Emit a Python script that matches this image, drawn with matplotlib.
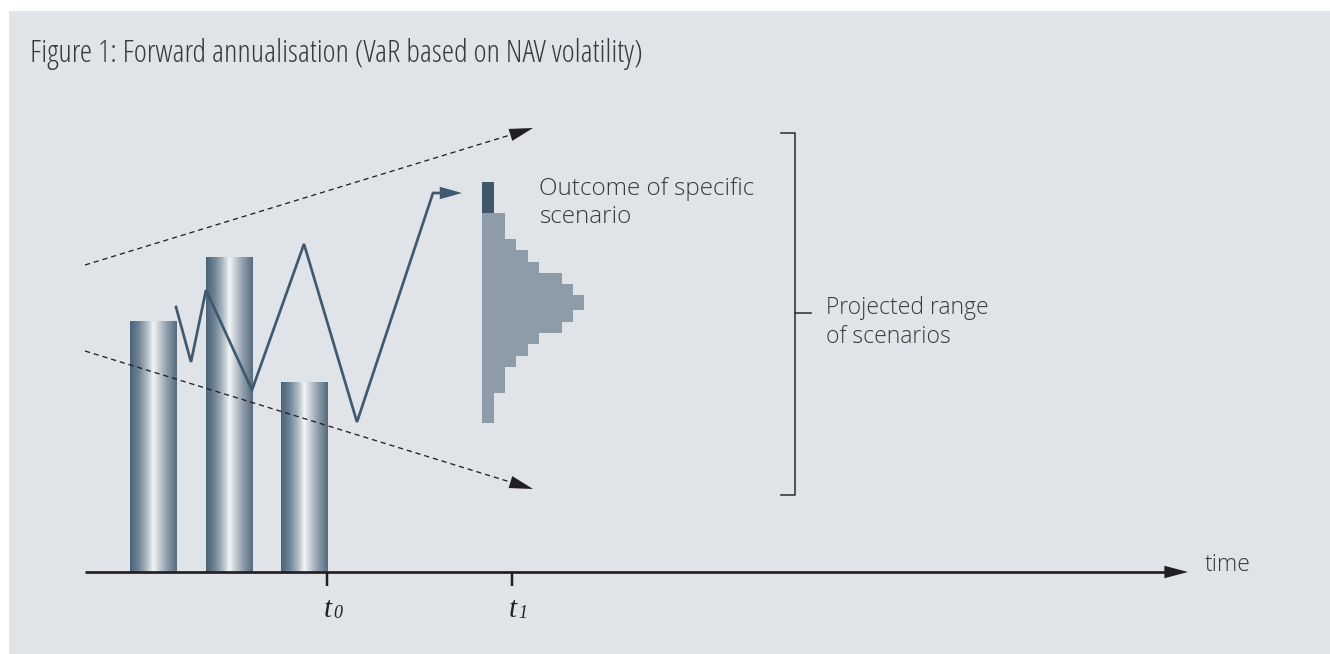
import matplotlib
matplotlib.use("Agg")
import matplotlib.pyplot as plt
import numpy as np
from matplotlib.patches import Rectangle
from matplotlib.colors import LinearSegmentedColormap

# ---------------- data (diagram units: x = horizontal position, y = level above time axis) -------------
title = "Figure 1: Forward annualisation (VaR based on NAV volatility)"

bar_left = [130, 206, 281]          # historical NAV bars
bar_width = 46.5
bar_heights = [251, 315, 190]

path_x = [176, 191, 206, 252, 304, 357, 433, 462]   # NAV path / specific scenario
path_y = [265, 210, 282, 182, 328, 150, 379, 379]

upper_x = [85, 533]; upper_y = [307, 444]           # dashed envelope
lower_x = [85, 533]; lower_y = [221, 83]

hist_left = 482.3
hist_unit = 11.35
outcome_bin = (359.3, 389.7)                         # specific scenario outcome
hist_edges = [359.3, 333, 322, 310.3, 299.3, 287.7, 276.7, 262, 250.3,
              238.7, 228, 216.3, 204.7, 178.7, 148.7]
hist_counts = [2, 3, 4, 5, 7, 8, 9, 8, 7, 5, 4, 3, 2, 1]

tick_pos = [327, 512]
tick_labels = ["0", "1"]

bracket_x = 795
bracket_y = [77, 439]
bracket_mid = 259

axis_start, axis_end = 85, 1188

# ---------------- style -------------
PX = 0.72  # points per pixel at 100 dpi
BG = "#E0E3E7"
LINE = "#3E5970"
HIST = "#8E9CA9"
DARK = "#3F566B"
INK = "#231F20"
TXT = "#3A3A3A"
TFONT = dict(family="Open Sans", fontstretch="condensed", fontweight="light")
LFONT = dict(family="Open Sans", fontweight="light")

fig = plt.figure(figsize=(13.3, 6.54), dpi=100, facecolor="white")
ax = fig.add_axes([0, 0, 1, 1])

# background panel
ax.add_patch(Rectangle((9, 572 - 654), 1330, 654 - 11, facecolor=BG, edgecolor="none", zorder=0))

# title
ax.text(30, 572 - 62, title, fontsize=22.5, color=TXT, va="baseline", ha="left", **TFONT)

# gradient bars
cmap = LinearSegmentedColormap.from_list("cyl", [
    (0.0, "#4C6277"), (0.18, "#6E8294"), (0.36, "#AEB9C3"), (0.5, "#F4F6F8"),
    (0.62, "#C6CED6"), (0.8, "#8B9AA9"), (1.0, "#576B7E")])
grad = np.linspace(0, 1, 256).reshape(1, -1)
bars = ax.bar(bar_left, bar_heights, width=bar_width, align="edge", bottom=0,
              color="none", edgecolor="none", zorder=2)
for b in bars:
    im = ax.imshow(grad, cmap=cmap, aspect="auto", zorder=2,
                   extent=[b.get_x(), b.get_x() + b.get_width(), 0, b.get_height()],
                   interpolation="bilinear")
    im.set_clip_path(b)


def head(tip, prev, color, hl, hw):
    ax.annotate("", xy=tip, xytext=prev,
                arrowprops=dict(arrowstyle=f"-|>,head_length={hl},head_width={hw}", color=color,
                                lw=0, shrinkA=0, shrinkB=0), zorder=5)


# dashed envelope with arrowheads
for xs, ys in [(upper_x, upper_y), (lower_x, lower_y)]:
    dx, dy = xs[1] - xs[0], ys[1] - ys[0]
    f = 1 - 12 / np.hypot(dx, dy)
    ax.plot([xs[0], xs[0] + f * dx], [ys[0], ys[0] + f * dy], color=INK, lw=1.3 * PX,
            ls=(0, (4, 3)), zorder=3)
    head((xs[1], ys[1]), (xs[0] + 0.9 * dx, ys[0] + 0.9 * dy), INK, 1.7, 0.45)

# scenario path with arrow
ax.plot(path_x[:-1] + [path_x[-1] - 12], path_y, color=LINE, lw=2.7 * PX,
        solid_joinstyle="miter", zorder=3)
head((path_x[-1], path_y[-1]), (path_x[-2], path_y[-2]), LINE, 1.6, 0.45)

# histogram of projected scenarios
heights = [hist_edges[i] - hist_edges[i + 1] for i in range(len(hist_counts))]
ax.barh(hist_edges[1:], [c * hist_unit for c in hist_counts], height=heights, left=hist_left,
        align="edge", color=HIST, edgecolor="none", zorder=2)
ax.barh(outcome_bin[0], hist_unit, height=outcome_bin[1] - outcome_bin[0], left=hist_left,
        align="edge", color=DARK, edgecolor="none", zorder=2)
ax.text(539, 572 - 223, "Outcome of specific\nscenario", fontsize=17.5, color=TXT,
        va="baseline", ha="left", linespacing=1.2, **LFONT)

# bracket
ax.plot([bracket_x - 14, bracket_x, bracket_x, bracket_x - 14],
        [bracket_y[1], bracket_y[1], bracket_y[0], bracket_y[0]], color="#333333",
        lw=1.6 * PX, zorder=3)
ax.plot([bracket_x, bracket_x + 16], [bracket_mid, bracket_mid], color="#333333",
        lw=1.6 * PX, zorder=3)
ax.text(826, 572 - 343, "Projected range\nof scenarios", fontsize=16.5, color=TXT,
        va="baseline", ha="left", linespacing=1.25, **LFONT)

# time axis
ax.plot([axis_start, axis_end - 12], [0, 0], color=INK, lw=2.7 * PX, zorder=5,
        solid_capstyle="butt")
head((axis_end, 0), (axis_end - 40, 0), INK, 1.7, 0.45)
ax.text(1205, 572 - 571, "time", fontsize=16.5, color=TXT, va="baseline", ha="left", **LFONT)

for xp, lab in zip(tick_pos, tick_labels):
    ax.plot([xp, xp], [0, -14], color=INK, lw=2.5 * PX, zorder=5, solid_capstyle="butt")
    ax.text(xp - 3, -45, "t", fontsize=21, color=INK, va="baseline", ha="left",
            family="Liberation Serif", style="italic")
    ax.text(xp + 6, -46, lab, fontsize=13, color=INK, va="baseline", ha="left",
            family="Liberation Serif", style="italic")

ax.set_xlim(0, 1330)
ax.set_ylim(572 - 654, 572)
ax.axis("off")
fig.savefig("out.png", dpi=100, facecolor="white")
